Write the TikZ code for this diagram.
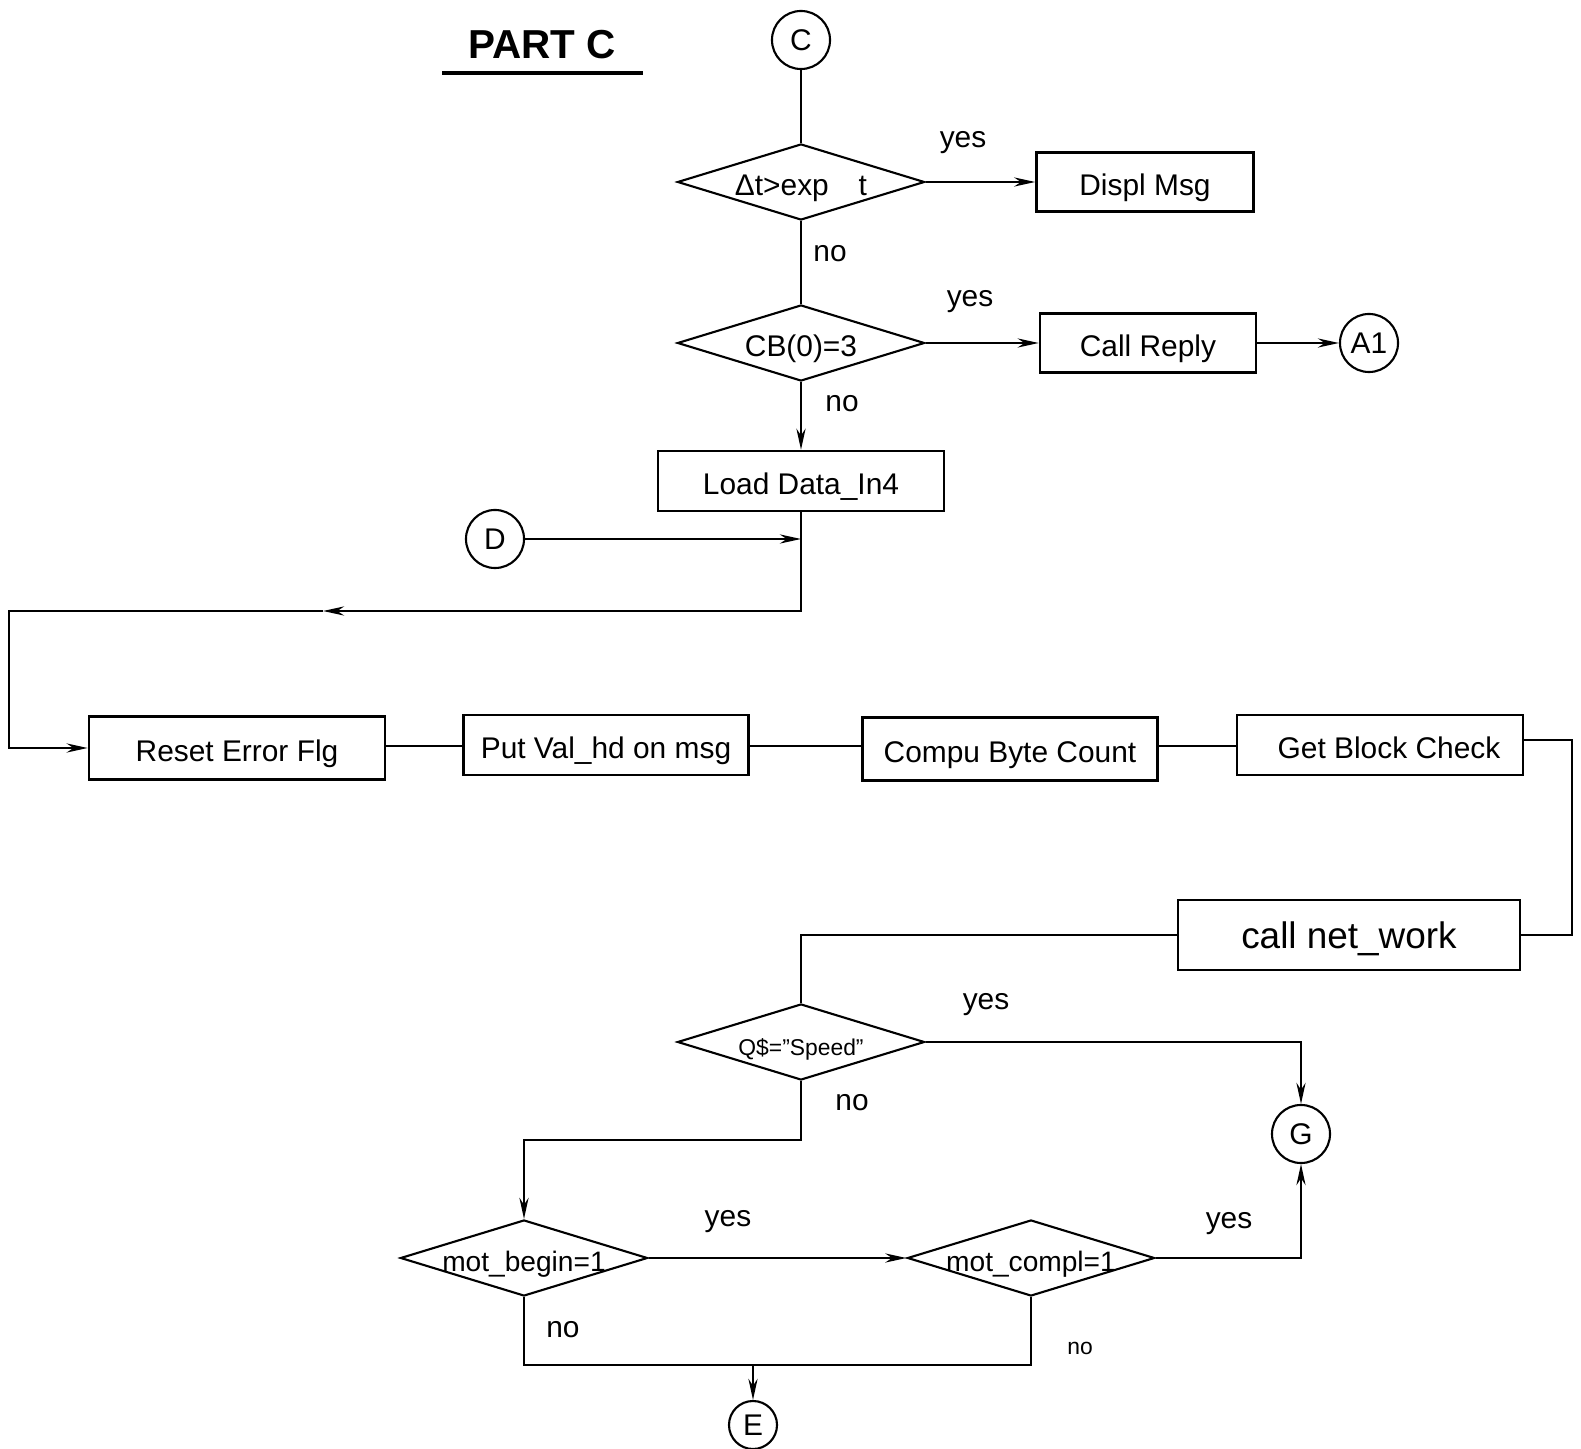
\documentclass[tikz,border=0pt]{standalone}
\usepackage{fontspec}
\setmainfont{Liberation Sans}
\usepackage{tikz}
\usetikzlibrary{arrows.meta, positioning, shapes.geometric}
\newcommand{\nowide}[1]{\makebox[0pt]{#1}}

\begin{document}
\begin{tikzpicture}[x=0.01cm, y=-0.01cm, >={Stealth[length=6pt,width=2.6pt]},
          line width=0.6pt, font=\fontsize{8.5}{10}\selectfont,
          box/.style={draw, rectangle, inner sep=0pt, line width=0.7pt,
            text height=1.45ex, text depth=0pt},
          test/.style={draw, diamond, aspect=3.25, inner sep=0pt,
            minimum width=2.47cm, minimum height=0.76cm,
            text height=1.45ex, text depth=0pt},
          conn/.style={draw, circle, inner sep=0pt, minimum size=0.58cm},
          lbl/.style={inner sep=0pt}]
        \useasboundingbox (0,0) rectangle (1581,1449);
        % title
        \node[font=\fontsize{11.5}{13}\selectfont\bfseries] (title) at (542,45) {PART C};
        \draw[line width=1.3pt] (442,73) -- (643,73);
        % top column
        \node[conn] (c) at (801,40) {C};
        \node[test] (t1) at (801,182) {\nowide{Δt>exp\quad t}};
        \node[box, minimum width=2.17cm, minimum height=0.59cm] (dm) at (1145,182) {Displ Msg};
        \node[test] (t2) at (801,343) {\nowide{CB(0)=3}};
        \node[box, minimum width=2.16cm, minimum height=0.59cm] (cr) at (1148,343) {Call Reply};
        \node[conn] (a1) at (1369,343) {A1};
        \node[box, minimum width=2.86cm, minimum height=0.60cm] (ld) at (801,481) {Load Data\_In4};
        \node[conn] (d) at (495,539) {D};
        \draw (c) -- (t1);
        \draw[->] (t1) -- (dm);
        \draw (t1) -- (t2);
        \draw[->] (t2) -- (cr);
        \draw[->] (cr) -- (a1);
        \draw[->] (t2) -- (ld);
        \node[lbl] (yes1) at (963,143) {yes};
        \node[lbl] (no1) at (830,254) {no};
        \node[lbl] (yes2) at (970,302) {yes};
        \node[lbl] (no2) at (842,404) {no};
        % message row
        \node[box, minimum width=2.96cm, minimum height=0.63cm] (rst) at (237,748) {Reset Error Flg};
        \node[box, minimum width=2.85cm, minimum height=0.60cm] (put) at (606,745) {Put Val\_hd on msg};
        \node[box, minimum width=2.95cm, minimum height=0.63cm] (cbc) at (1010,749) {Compu Byte Count};
        \node[box, minimum width=2.86cm, minimum height=0.60cm] (gbc) at (1380,745) {\hspace{0.18cm}Get Block Check};
        \node[box, minimum width=3.42cm, minimum height=0.70cm,
              font=\fontsize{10.5}{12}\selectfont] (cnw) at (1349,935) {call net\_work};
        % loop back to the message row
        \coordinate (jr) at (801,611);
        \coordinate (jm) at (323,611);
        \coordinate (jl) at (9,611);
        \draw[->] (d) -- (d -| ld.south);
        \draw[->] (ld) -- (jr) -- (jm);
        \draw[->] (jm) -- (jl) |- (rst.west);
        \coordinate (rw) at (0,746);
        \draw (rst.east |- rw) -- (put.west |- rw);
        \draw (put.east |- rw) -- (cbc.west |- rw);
        \draw (cbc.east |- rw) -- (gbc.west |- rw);
        \coordinate (rr) at (1572,740);
        \draw (gbc.east |- rr) -- (rr) |- (cnw.east);
        % tests
        \node[test, font=\fontsize{6.5}{8}\selectfont] (q) at (801,1042) {\nowide{Q\$="Speed"}};
        \node[conn] (g) at (1301,1134) {G};
        \node[test, font=\fontsize{8}{10}\selectfont] (mb) at (524,1258) {\nowide{mot\_begin=1}};
        \node[test, font=\fontsize{8}{10}\selectfont] (mc) at (1031,1258) {\nowide{mot\_compl=1}};
        \node[draw, circle, inner sep=0pt, minimum size=0.48cm] (e) at (753,1425) {E};
        \draw (cnw.west) -| (q.north);
        \draw[->] (q.east) -| (g.north);
        \coordinate (qb) at (801,1140);
        \draw[->] (q.south) -- (qb) -| (mb.north);
        \draw[->] (mb.east) -- (mc.west);
        \draw[->] (mc.east) -| (g.south);
        \coordinate (eb) at (753,1365);
        \draw (mb.south) |- (eb) -| (mc.south);
        \draw[->] (eb) -- (e);
        \node[lbl] (yes3) at (986,1005) {yes};
        \node[lbl] (no3) at (852,1103) {no};
        \node[lbl] (yes4) at (728,1222) {yes};
        \node[lbl] (yes5) at (1229,1224) {yes};
        \node[lbl] (no4) at (563,1330) {no};
        \node[lbl, font=\fontsize{6.5}{8}\selectfont] (no5) at (1080,1348) {no};
      \end{tikzpicture}
\end{document}
